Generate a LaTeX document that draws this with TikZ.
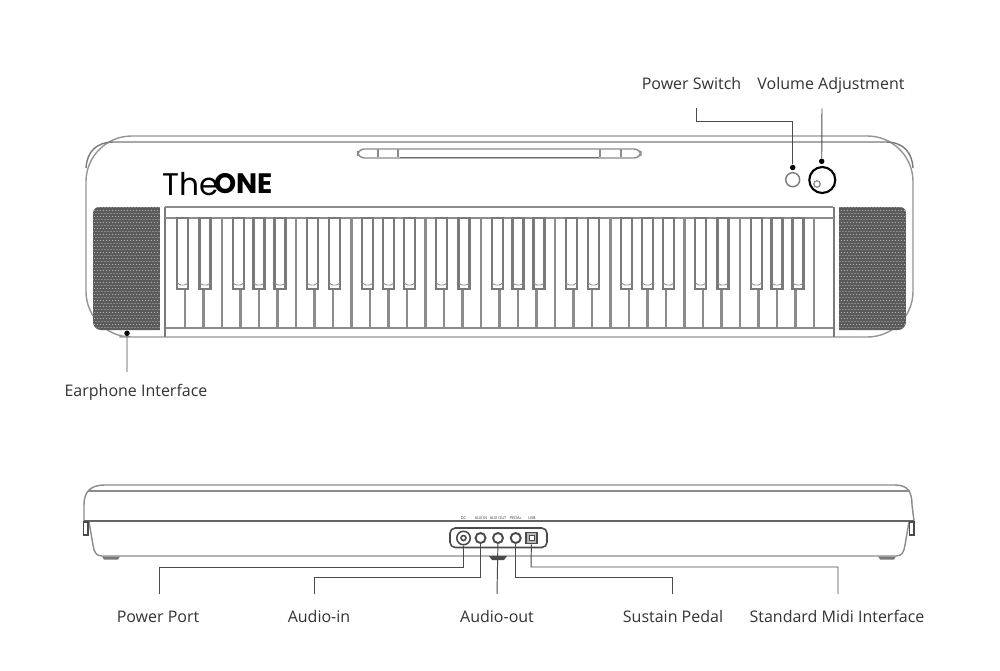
\documentclass[tikz,border=0pt]{standalone}
\usepackage{fontspec}
\setmainfont{Open Sans}
\newfontfamily\logofont{Poppins}
\definecolor{keyline}{HTML}{8C8C8C}
\definecolor{bodyline}{HTML}{7A7A7A}
\definecolor{darkline}{HTML}{4A4A4A}
\definecolor{labeltext}{HTML}{333333}
\definecolor{grille}{HTML}{5A5A5A}
\tikzset{
  callout/.style={labeltext,font=\fontsize{9.1}{11}\selectfont,inner sep=0pt,text height=7pt,text depth=2pt},
  leader/.style={draw=darkline,line width=0.55pt},
  tipdot/.style={circle,fill=black,inner sep=0pt,minimum size=0.11cm},
  jack/.style={circle,draw=darkline,line width=1.1pt,inner sep=0pt,minimum size=0.2cm},
}
\begin{document}
\begin{tikzpicture}[x=0.02cm,y=-0.02cm]
  \def \keyl {166.5}
  \def \keyw {18.5}
  \useasboundingbox (0,0) rectangle (1000,670);
  \fill[white] (0,0) rectangle (1000,670);

  % top view: body
  \draw[bodyline!80,line width=0.8pt,rounded corners=26] (165,337)--(86,337)--(86,136)--(913,136)--(913,337)--cycle;
  \draw[bodyline,line width=0.8pt] (86,168) .. controls (87,152) and (96,142) .. (114,142)--(886,142) .. controls (903,142) and (912,152) .. (913,168);
  \draw[keyline,line width=0.8pt] (165,207)--(833,207);
  \draw[bodyline,line width=0.8pt] (165,207)--(165,337);
  \draw[bodyline,line width=0.8pt] (834,207)--(834,337);
  \draw[keyline,line width=1.4pt] (165,218)--(834,218);
  \draw[keyline,line width=1.2pt] (166,328)--(833,328);

  % music rest
  \draw[keyline,line width=0.8pt,rounded corners=4] (357.5,149) rectangle (641,158);
  \foreach \x in {378,398,600,621}{
    \draw[keyline,line width=0.8pt] (\x,149)--(\x,157);
  }
  \draw[darkline!80,line width=0.9pt] (400,157.5)--(599,157.5);

  % logo
  \node (logoThe) at (190.5,184) {\logofont\fontsize{17.8}{20}\selectfont The};
  \node (logoOne) at (243.5,184) {\logofont\bfseries\fontsize{16}{20}\selectfont ONE};

  % speaker grilles
  \foreach \side in {1,-1}{
    \begin{scope}[shift={(499.5,0)},xscale=\side]
      \clip (-339.5,207)--(-400.5,207) to[out=180,in=90] (-406.5,213)--(-406.5,322) to[out=-90,in=180] (-398.5,330)--(-339.5,330)--cycle;
      \fill[grille] (-407,206) rectangle (-339,331);
      \foreach \row in {0,...,41}{
        \pgfmathsetmacro{\rowshift}{mod(\row,2)*1.5}
        \foreach \col in {0,...,22}{
          \fill[white!55!grille] (-406.5+\rowshift+3*\col,207.5+3*\row) circle (0.65);
        }
      }
    \end{scope}
  }

  % white keys
  \foreach \i in {1,...,35}{
    \pgfmathtruncatemacro{\note}{mod(\i,7)}
    \ifnum\note=3 \def\keytop{218}\else\ifnum\note=0 \def\keytop{218}\else\def\keytop{288}\fi\fi
    \draw[keyline,line width=1.3pt] (\keyl+\keyw*\i,\keytop)--(\keyl+\keyw*\i,328);
  }

  % black keys
  \foreach \octave in {0,...,4}{
    \foreach \off in {16.2,38.5,71.8,92.5,113.5}{
      \pgfmathsetmacro{\bx}{\keyl+129.5*\octave+\off}
      \draw[bodyline,line width=1.3pt] (\bx-5.5,218) rectangle (\bx+5.5,289);
      \draw[keyline,line width=0.5pt] (\bx-5.5,283)--(\bx-2,285)--(\bx+2,285)--(\bx+5.5,283);
    }
  }

  % controls
  \node[circle,draw=bodyline,line width=0.8pt,inner sep=0pt,minimum size=0.28cm] (btnSwitch) at (792.7,179.7) {};
  \node[circle,draw=black,line width=1.2pt,inner sep=0pt,minimum size=0.52cm] (knobVolume) at (822.3,180) {};
  \node[circle,draw=keyline,line width=0.7pt,inner sep=0pt,minimum size=0.13cm] (knobMark) at (817,184) {};

  % side view
  \draw[keyline,line width=0.8pt] (84,521)--(84,505) .. controls (84,492) and (90,485) .. (105,485)--(895,485) .. controls (908,485) and (912,492) .. (912,505)--(914,521);
  \draw[keyline,line width=0.8pt] (88,491)--(910,491);
  \draw[darkline!85,line width=1.1pt] (84,521)--(914,521);
  \draw[keyline,line width=0.8pt] (89,522)--(93,545) .. controls (94,552) and (96,556) .. (102,556)--(896,556) .. controls (902,556) and (904,552) .. (905,545)--(909,522);
  \draw[darkline,line width=0.8pt] (83.5,522) rectangle (88,535);
  \draw[darkline,line width=0.8pt] (909.5,522) rectangle (914,535);
  \fill[bodyline] (102,556.5) -- (120,556.5) -- (118,559.5) -- (104,559.5) -- cycle;
  \fill[bodyline] (878,556.5) -- (896,556.5) -- (894,559.5) -- (880,559.5) -- cycle;
  \fill[darkline] (489,556) -- (507,556) -- (504,560) -- (492,560) -- cycle;

  % rear panel
  \draw[darkline,line width=0.9pt,rounded corners=3] (450,528) rectangle (547,547.5);
  \node[jack,minimum size=0.27cm,line width=0.9pt] (jackPower) at (463.5,538) {};
  \node[circle,draw=darkline,line width=0.9pt,inner sep=0pt,minimum size=0.1cm] (jackPowerPin) at (463.5,538) {};
  \node[jack] (jackIn) at (480.5,538) {};
  \node[jack] (jackOut) at (498,538) {};
  \node[jack] (jackPedal) at (515.7,538) {};
  \node[draw=darkline,fill=white!60!darkline,line width=0.9pt,inner sep=0pt,minimum size=0.22cm] (jackMidi) at (531.5,538) {};
  \node[draw=darkline,fill=white,line width=0.4pt,inner sep=0pt,minimum size=0.1cm] (jackMidiPin) at (531.5,538) {};
  \foreach \x/\txt/\nm in {463.5/DC/capPower,481/AUX IN/capIn,498/AUX OUT/capOut,515.7/PEDAL/capPedal,532/USB/capMidi}{
    \node[labeltext,font=\fontsize{2.2}{3}\selectfont,inner sep=0pt] (\nm) at (\x,518) {\txt};
  }

  % labels
  \node[callout] (labelSwitch) at (691.5,85) {Power Switch};
  \node[callout] (labelVolume) at (831,85) {Volume Adjustment};
  \node[callout] (labelEarphone) at (136,392) {Earphone Interface};
  \node[callout] (labelPower) at (158,618) {Power Port};
  \node[callout] (labelIn) at (319,618) {Audio-in};
  \node[callout] (labelOut) at (497,618) {Audio-out};
  \node[callout] (labelPedal) at (673,618) {Sustain Pedal};
  \node[callout] (labelMidi) at (837,618) {Standard Midi Interface};

  % leaders
  \node[tipdot] (dotSwitch) at (792.7,167.5) {};
  \node[tipdot] (dotVolume) at (821.7,161.3) {};
  \node[tipdot] (dotEarphone) at (127,333.3) {};
  \coordinate (bendSwitch) at (792.7,121);
  \coordinate (bendPower) at (463.5,567);
  \coordinate (bendIn) at (480.5,577);
  \coordinate (bendPedal) at (515.7,577);
  \coordinate (bendMidi) at (531,567);

  \draw[leader] ([xshift=0.1cm,yshift=-0.3cm]labelSwitch.south) |- (bendSwitch) -- (dotSwitch);
  \draw[leader] ([xshift=-0.18cm,yshift=-0.3cm]labelVolume.south) -- (dotVolume);
  \draw[leader] ([xshift=-0.18cm,yshift=0.24cm]labelEarphone.north) -- (dotEarphone);
  \draw[leader] ([xshift=0.02cm,yshift=0.32cm]labelPower.north) |- (bendPower) -- (jackPower);
  \draw[leader] ([xshift=-0.1cm,yshift=0.32cm]labelIn.north) |- (bendIn) -- (jackIn);
  \draw[leader] ([yshift=0.32cm]labelOut.north) -- (jackOut);
  \draw[leader] ([xshift=-0.02cm,yshift=0.32cm]labelPedal.north) |- (bendPedal) -- (jackPedal);
  \draw[leader] ([xshift=0.02cm,yshift=0.32cm]labelMidi.north) |- (bendMidi) -- (jackMidi);
\end{tikzpicture}
\end{document}
